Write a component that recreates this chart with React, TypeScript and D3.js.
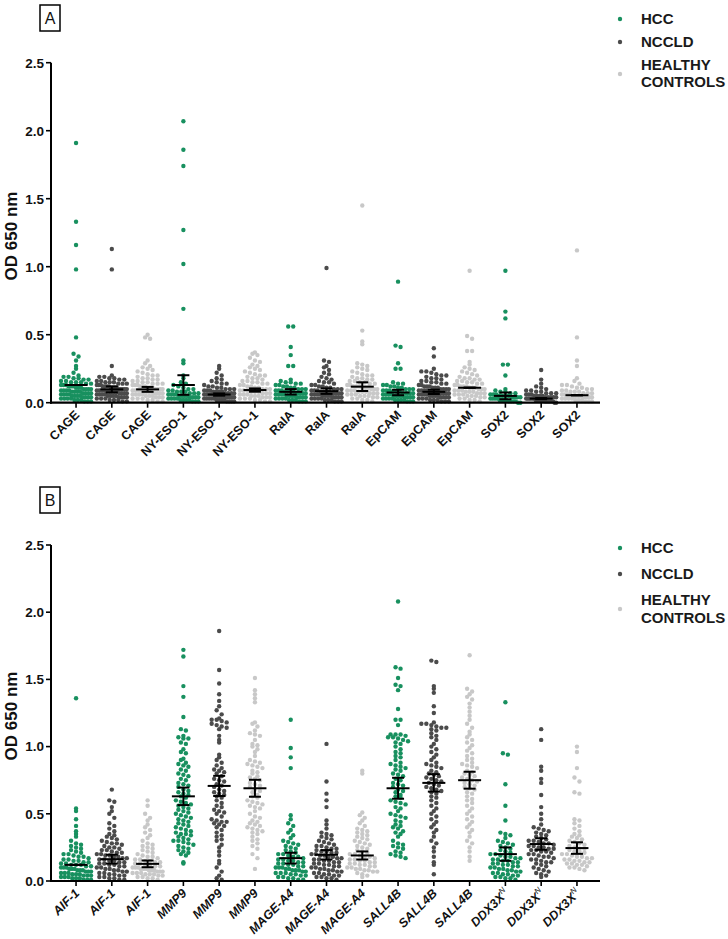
import React from "react";
import * as d3 from "d3";

// ---- categories / groups ----
const markersA = ["CAGE", "NY-ESO-1", "RalA", "EpCAM", "SOX2"];
const markersB = ["AIF-1", "MMP9", "MAGE-A4", "SALL4B", "DDX3X"];
const groupNames = ["HCC", "NCCLD", "HEALTHY CONTROLS"];
const groupColors = ["#18905f", "#4b4b4b", "#c8c8c8"];
const yTicks = [0, 0.5, 1.0, 1.5, 2.0, 2.5];

// ---- panel A values (OD 650 nm) ----
const cageHCC = [1.91, 1.33, 1.16, 0.98, 0.48, 0.36, 0.34, 0.31, 0.27, 0.25, 0.22, 0.2, 0.19, 0.19, 0.18, 0.18, 0.17, 0.17, 0.16, 0.16, 0.15, 0.15, 0.15, 0.14, 0.14, 0.13, 0.13, 0.13, 0.12, 0.12, 0.12, 0.11, 0.11, 0.11, 0.1, 0.1, 0.1, 0.1, 0.09, 0.09, 0.09, 0.09, 0.08, 0.08, 0.08, 0.08, 0.07, 0.07, 0.07, 0.07, 0.06, 0.06, 0.06, 0.06, 0.05, 0.05, 0.05, 0.05, 0.04, 0.04, 0.04, 0.04, 0.03, 0.03, 0.03, 0.03, 0.02, 0.02, 0.02, 0.01, 0.01, 0.01];
const cageNCCLD = [1.13, 0.98, 0.27, 0.2, 0.19, 0.19, 0.18, 0.18, 0.17, 0.17, 0.16, 0.16, 0.15, 0.15, 0.15, 0.14, 0.14, 0.14, 0.13, 0.13, 0.13, 0.12, 0.12, 0.12, 0.12, 0.11, 0.11, 0.11, 0.11, 0.1, 0.1, 0.1, 0.1, 0.1, 0.09, 0.09, 0.09, 0.09, 0.08, 0.08, 0.08, 0.08, 0.08, 0.07, 0.07, 0.07, 0.07, 0.06, 0.06, 0.06, 0.06, 0.05, 0.05, 0.05, 0.05, 0.04, 0.04, 0.04, 0.04, 0.03, 0.03, 0.03, 0.02, 0.02, 0.02, 0.01, 0.01];
const cageHC = [0.5, 0.48, 0.47, 0.31, 0.29, 0.27, 0.26, 0.25, 0.24, 0.23, 0.22, 0.21, 0.2, 0.2, 0.19, 0.18, 0.18, 0.17, 0.17, 0.16, 0.16, 0.15, 0.15, 0.14, 0.14, 0.14, 0.13, 0.13, 0.13, 0.12, 0.12, 0.12, 0.11, 0.11, 0.11, 0.1, 0.1, 0.1, 0.1, 0.09, 0.09, 0.09, 0.09, 0.08, 0.08, 0.08, 0.08, 0.07, 0.07, 0.07, 0.07, 0.06, 0.06, 0.06, 0.06, 0.05, 0.05, 0.05, 0.04, 0.04, 0.04, 0.03, 0.03, 0.03, 0.02, 0.02, 0.01, 0.01];
const nyHCC = [2.07, 1.86, 1.74, 1.27, 1.02, 0.69, 0.31, 0.29, 0.2, 0.18, 0.15, 0.14, 0.13, 0.12, 0.11, 0.1, 0.1, 0.09, 0.09, 0.08, 0.08, 0.08, 0.07, 0.07, 0.07, 0.06, 0.06, 0.06, 0.06, 0.05, 0.05, 0.05, 0.05, 0.04, 0.04, 0.04, 0.04, 0.03, 0.03, 0.03, 0.03, 0.02, 0.02, 0.02, 0.02, 0.01, 0.01, 0.01];
const nyNCCLD = [0.27, 0.25, 0.22, 0.2, 0.18, 0.17, 0.16, 0.15, 0.14, 0.14, 0.13, 0.12, 0.12, 0.11, 0.11, 0.1, 0.1, 0.1, 0.09, 0.09, 0.09, 0.08, 0.08, 0.08, 0.08, 0.07, 0.07, 0.07, 0.07, 0.06, 0.06, 0.06, 0.06, 0.06, 0.05, 0.05, 0.05, 0.05, 0.05, 0.04, 0.04, 0.04, 0.04, 0.04, 0.03, 0.03, 0.03, 0.03, 0.03, 0.02, 0.02, 0.02, 0.02, 0.01, 0.01, 0.01, 0.01];
const nyHC = [0.37, 0.36, 0.35, 0.33, 0.31, 0.3, 0.28, 0.27, 0.26, 0.25, 0.24, 0.23, 0.22, 0.21, 0.2, 0.2, 0.19, 0.18, 0.18, 0.17, 0.16, 0.16, 0.15, 0.15, 0.14, 0.14, 0.13, 0.13, 0.12, 0.12, 0.11, 0.11, 0.1, 0.1, 0.1, 0.09, 0.09, 0.09, 0.08, 0.08, 0.08, 0.07, 0.07, 0.07, 0.06, 0.06, 0.06, 0.05, 0.05, 0.05, 0.04, 0.04, 0.04, 0.03, 0.03, 0.03, 0.02, 0.02, 0.01, 0.01];
const ralaHCC = [0.56, 0.56, 0.41, 0.35, 0.27, 0.27, 0.17, 0.16, 0.15, 0.15, 0.14, 0.14, 0.13, 0.13, 0.12, 0.12, 0.11, 0.11, 0.1, 0.1, 0.1, 0.09, 0.09, 0.09, 0.08, 0.08, 0.08, 0.08, 0.07, 0.07, 0.07, 0.07, 0.06, 0.06, 0.06, 0.06, 0.05, 0.05, 0.05, 0.05, 0.04, 0.04, 0.04, 0.04, 0.03, 0.03, 0.03, 0.03, 0.02, 0.02, 0.02, 0.01, 0.01, 0.01];
const ralaNCCLD = [0.99, 0.31, 0.3, 0.27, 0.26, 0.24, 0.22, 0.21, 0.19, 0.18, 0.17, 0.16, 0.15, 0.15, 0.14, 0.13, 0.13, 0.12, 0.12, 0.11, 0.11, 0.1, 0.1, 0.1, 0.09, 0.09, 0.09, 0.08, 0.08, 0.08, 0.08, 0.07, 0.07, 0.07, 0.07, 0.06, 0.06, 0.06, 0.06, 0.05, 0.05, 0.05, 0.05, 0.04, 0.04, 0.04, 0.04, 0.03, 0.03, 0.03, 0.03, 0.02, 0.02, 0.02, 0.01, 0.01, 0.01];
const ralaHC = [1.45, 0.53, 0.45, 0.43, 0.29, 0.28, 0.27, 0.26, 0.25, 0.24, 0.23, 0.22, 0.21, 0.2, 0.2, 0.19, 0.18, 0.18, 0.17, 0.17, 0.16, 0.16, 0.15, 0.15, 0.14, 0.14, 0.13, 0.13, 0.12, 0.12, 0.12, 0.11, 0.11, 0.11, 0.1, 0.1, 0.1, 0.09, 0.09, 0.09, 0.08, 0.08, 0.08, 0.07, 0.07, 0.07, 0.06, 0.06, 0.06, 0.05, 0.05, 0.05, 0.04, 0.04, 0.03, 0.03, 0.02, 0.02, 0.01];
const epHCC = [0.89, 0.42, 0.41, 0.29, 0.25, 0.25, 0.15, 0.14, 0.14, 0.13, 0.13, 0.12, 0.12, 0.11, 0.11, 0.1, 0.1, 0.1, 0.09, 0.09, 0.09, 0.08, 0.08, 0.08, 0.07, 0.07, 0.07, 0.07, 0.06, 0.06, 0.06, 0.06, 0.05, 0.05, 0.05, 0.05, 0.04, 0.04, 0.04, 0.04, 0.03, 0.03, 0.03, 0.03, 0.02, 0.02, 0.02, 0.02, 0.01, 0.01, 0.01];
const epNCCLD = [0.4, 0.34, 0.25, 0.23, 0.23, 0.22, 0.21, 0.2, 0.2, 0.19, 0.18, 0.18, 0.17, 0.16, 0.16, 0.15, 0.15, 0.14, 0.14, 0.13, 0.13, 0.12, 0.12, 0.12, 0.11, 0.11, 0.11, 0.1, 0.1, 0.1, 0.1, 0.09, 0.09, 0.09, 0.09, 0.08, 0.08, 0.08, 0.08, 0.07, 0.07, 0.07, 0.07, 0.06, 0.06, 0.06, 0.06, 0.05, 0.05, 0.05, 0.05, 0.04, 0.04, 0.04, 0.04, 0.03, 0.03, 0.03, 0.02, 0.02, 0.02, 0.01, 0.01, 0.01];
const epHC = [0.97, 0.49, 0.47, 0.38, 0.38, 0.3, 0.28, 0.26, 0.25, 0.24, 0.23, 0.22, 0.21, 0.2, 0.19, 0.18, 0.18, 0.17, 0.17, 0.16, 0.16, 0.15, 0.15, 0.14, 0.14, 0.13, 0.13, 0.12, 0.12, 0.12, 0.11, 0.11, 0.11, 0.1, 0.1, 0.1, 0.09, 0.09, 0.09, 0.08, 0.08, 0.08, 0.07, 0.07, 0.07, 0.06, 0.06, 0.06, 0.05, 0.05, 0.05, 0.04, 0.04, 0.03, 0.03, 0.02, 0.02, 0.01];
const sox2HCC = [0.97, 0.67, 0.62, 0.28, 0.28, 0.2, 0.1, 0.09, 0.08, 0.08, 0.07, 0.07, 0.06, 0.06, 0.06, 0.05, 0.05, 0.05, 0.05, 0.04, 0.04, 0.04, 0.04, 0.03, 0.03, 0.03, 0.03, 0.02, 0.02, 0.02, 0.02, 0.01, 0.01, 0.01, 0.01, 0.0, 0.0];
const sox2NCCLD = [0.24, 0.17, 0.14, 0.12, 0.11, 0.1, 0.09, 0.09, 0.08, 0.08, 0.07, 0.07, 0.07, 0.06, 0.06, 0.06, 0.05, 0.05, 0.05, 0.05, 0.04, 0.04, 0.04, 0.04, 0.04, 0.03, 0.03, 0.03, 0.03, 0.03, 0.03, 0.02, 0.02, 0.02, 0.02, 0.02, 0.02, 0.01, 0.01, 0.01, 0.01, 0.01, 0.01, 0.0, 0.0];
const sox2HC = [1.12, 0.48, 0.31, 0.27, 0.18, 0.16, 0.14, 0.13, 0.13, 0.12, 0.11, 0.11, 0.1, 0.1, 0.09, 0.09, 0.08, 0.08, 0.08, 0.07, 0.07, 0.07, 0.06, 0.06, 0.06, 0.06, 0.05, 0.05, 0.05, 0.05, 0.04, 0.04, 0.04, 0.04, 0.03, 0.03, 0.03, 0.03, 0.02, 0.02, 0.02, 0.01, 0.01, 0.01];

// mean and SEM per column, panel A
const meanA = [0.13, 0.098, 0.098, 0.13, 0.06, 0.093, 0.08, 0.085, 0.118, 0.075, 0.08, 0.11, 0.05, 0.03, 0.055];
const semA = [0, 0.022, 0.018, 0.072, 0.008, 0.012, 0.02, 0.02, 0.032, 0.02, 0.016, 0, 0.025, 0.004, 0];

// ---- panel B values ----
const aifHCC = [1.36, 0.54, 0.52, 0.46, 0.41, 0.37, 0.35, 0.33, 0.3, 0.28, 0.27, 0.26, 0.25, 0.24, 0.23, 0.22, 0.21, 0.2, 0.2, 0.19, 0.18, 0.18, 0.17, 0.16, 0.16, 0.15, 0.15, 0.14, 0.14, 0.13, 0.13, 0.12, 0.12, 0.12, 0.11, 0.11, 0.1, 0.1, 0.1, 0.09, 0.09, 0.09, 0.08, 0.08, 0.08, 0.07, 0.07, 0.07, 0.06, 0.06, 0.06, 0.05, 0.05, 0.05, 0.04, 0.04, 0.04, 0.03, 0.03, 0.03, 0.02, 0.02, 0.02, 0.01, 0.01, 0.01];
const aifNCCLD = [0.68, 0.6, 0.59, 0.55, 0.52, 0.5, 0.47, 0.43, 0.41, 0.39, 0.37, 0.35, 0.34, 0.33, 0.32, 0.31, 0.3, 0.29, 0.28, 0.28, 0.27, 0.26, 0.25, 0.25, 0.24, 0.23, 0.23, 0.22, 0.21, 0.21, 0.2, 0.2, 0.19, 0.19, 0.18, 0.18, 0.17, 0.17, 0.16, 0.16, 0.15, 0.15, 0.14, 0.14, 0.13, 0.13, 0.12, 0.12, 0.11, 0.11, 0.1, 0.1, 0.09, 0.09, 0.08, 0.08, 0.07, 0.07, 0.06, 0.06, 0.05, 0.05, 0.04, 0.04, 0.03, 0.03, 0.02, 0.02, 0.01, 0.01];
const aifHC = [0.6, 0.56, 0.5, 0.47, 0.45, 0.42, 0.4, 0.38, 0.36, 0.34, 0.32, 0.3, 0.28, 0.27, 0.26, 0.25, 0.24, 0.23, 0.22, 0.21, 0.2, 0.19, 0.18, 0.18, 0.17, 0.16, 0.16, 0.15, 0.15, 0.14, 0.14, 0.13, 0.13, 0.12, 0.12, 0.11, 0.11, 0.1, 0.1, 0.1, 0.09, 0.09, 0.09, 0.08, 0.08, 0.08, 0.07, 0.07, 0.07, 0.06, 0.06, 0.06, 0.05, 0.05, 0.05, 0.04, 0.04, 0.03, 0.03, 0.02, 0.02, 0.01];
const mmpHCC = [1.72, 1.67, 1.45, 1.37, 1.22, 1.13, 1.12, 1.08, 1.07, 1.06, 1.06, 1.03, 1.02, 0.98, 0.96, 0.95, 0.91, 0.9, 0.88, 0.87, 0.86, 0.85, 0.83, 0.82, 0.8, 0.79, 0.78, 0.76, 0.75, 0.73, 0.72, 0.71, 0.7, 0.68, 0.67, 0.66, 0.65, 0.64, 0.63, 0.62, 0.6, 0.59, 0.58, 0.57, 0.56, 0.55, 0.54, 0.53, 0.52, 0.51, 0.5, 0.49, 0.48, 0.47, 0.46, 0.45, 0.44, 0.43, 0.42, 0.41, 0.4, 0.39, 0.38, 0.37, 0.36, 0.35, 0.35, 0.34, 0.33, 0.32, 0.31, 0.3, 0.3, 0.29, 0.28, 0.27, 0.26, 0.25, 0.24, 0.23, 0.22, 0.21, 0.2, 0.19, 0.14, 0.13];
const mmpNCCLD = [1.86, 1.57, 1.47, 1.39, 1.34, 1.3, 1.27, 1.24, 1.21, 1.2, 1.2, 1.19, 1.18, 1.17, 1.16, 1.15, 1.14, 1.13, 1.08, 1.05, 1.03, 0.94, 0.92, 0.9, 0.88, 0.86, 0.84, 0.83, 0.82, 0.81, 0.8, 0.78, 0.76, 0.75, 0.74, 0.72, 0.71, 0.7, 0.68, 0.67, 0.66, 0.65, 0.64, 0.63, 0.62, 0.6, 0.58, 0.56, 0.55, 0.53, 0.52, 0.51, 0.5, 0.48, 0.46, 0.45, 0.44, 0.44, 0.43, 0.42, 0.41, 0.4, 0.38, 0.36, 0.34, 0.33, 0.31, 0.3, 0.27, 0.25, 0.22, 0.19, 0.15, 0.13, 0.1, 0.07, 0.04, 0.02, 0.01];
const mmpHC = [1.51, 1.42, 1.39, 1.36, 1.33, 1.18, 1.17, 1.15, 1.12, 1.1, 1.09, 1.08, 1.05, 1.02, 1.01, 1.0, 0.98, 0.96, 0.93, 0.9, 0.89, 0.88, 0.87, 0.86, 0.85, 0.84, 0.82, 0.81, 0.8, 0.78, 0.77, 0.76, 0.75, 0.73, 0.72, 0.71, 0.7, 0.68, 0.67, 0.66, 0.64, 0.63, 0.62, 0.6, 0.59, 0.58, 0.57, 0.56, 0.55, 0.54, 0.52, 0.5, 0.48, 0.47, 0.45, 0.44, 0.43, 0.42, 0.41, 0.4, 0.39, 0.38, 0.37, 0.36, 0.35, 0.33, 0.31, 0.3, 0.28, 0.26, 0.24, 0.2, 0.17, 0.09];
const mageHCC = [1.2, 0.99, 0.92, 0.84, 0.49, 0.46, 0.43, 0.41, 0.38, 0.36, 0.34, 0.32, 0.3, 0.29, 0.28, 0.27, 0.26, 0.25, 0.24, 0.23, 0.22, 0.21, 0.2, 0.2, 0.19, 0.18, 0.18, 0.17, 0.16, 0.16, 0.15, 0.15, 0.14, 0.14, 0.13, 0.13, 0.12, 0.12, 0.11, 0.11, 0.1, 0.1, 0.1, 0.09, 0.09, 0.08, 0.08, 0.08, 0.07, 0.07, 0.06, 0.06, 0.06, 0.05, 0.05, 0.04, 0.04, 0.03, 0.03, 0.02, 0.02, 0.01, 0.01];
const mageNCCLD = [1.02, 0.74, 0.65, 0.6, 0.55, 0.45, 0.42, 0.39, 0.36, 0.35, 0.34, 0.33, 0.32, 0.31, 0.3, 0.29, 0.28, 0.27, 0.26, 0.26, 0.25, 0.24, 0.24, 0.23, 0.22, 0.22, 0.21, 0.21, 0.2, 0.2, 0.19, 0.19, 0.18, 0.18, 0.17, 0.17, 0.16, 0.16, 0.15, 0.15, 0.14, 0.14, 0.13, 0.13, 0.12, 0.12, 0.11, 0.11, 0.1, 0.1, 0.09, 0.09, 0.08, 0.08, 0.07, 0.07, 0.06, 0.06, 0.05, 0.05, 0.04, 0.04, 0.03, 0.03, 0.02, 0.02, 0.01];
const mageHC = [0.82, 0.8, 0.51, 0.49, 0.47, 0.45, 0.43, 0.41, 0.39, 0.38, 0.37, 0.36, 0.35, 0.34, 0.33, 0.32, 0.31, 0.3, 0.29, 0.28, 0.27, 0.26, 0.25, 0.24, 0.23, 0.22, 0.21, 0.2, 0.2, 0.19, 0.18, 0.18, 0.17, 0.16, 0.16, 0.15, 0.15, 0.14, 0.14, 0.13, 0.13, 0.12, 0.12, 0.11, 0.11, 0.1, 0.1, 0.09, 0.09, 0.08, 0.08, 0.07, 0.07, 0.06, 0.05, 0.04, 0.03];
const sallHCC = [2.08, 1.59, 1.58, 1.51, 1.46, 1.45, 1.42, 1.28, 1.2, 1.2, 1.16, 1.09, 1.09, 1.09, 1.08, 1.07, 1.07, 1.06, 1.05, 1.04, 1.03, 1.02, 1.0, 0.98, 0.96, 0.95, 0.93, 0.92, 0.9, 0.88, 0.87, 0.86, 0.85, 0.84, 0.83, 0.82, 0.8, 0.79, 0.78, 0.76, 0.75, 0.73, 0.72, 0.71, 0.7, 0.68, 0.67, 0.66, 0.64, 0.63, 0.62, 0.6, 0.59, 0.58, 0.57, 0.55, 0.54, 0.52, 0.5, 0.49, 0.48, 0.47, 0.45, 0.44, 0.42, 0.41, 0.4, 0.39, 0.37, 0.36, 0.35, 0.33, 0.3, 0.28, 0.27, 0.26, 0.25, 0.24, 0.22, 0.21, 0.2, 0.19, 0.18, 0.17];
const sallNCCLD = [1.64, 1.63, 1.45, 1.43, 1.4, 1.3, 1.25, 1.18, 1.17, 1.17, 1.16, 1.15, 1.14, 1.14, 1.13, 1.12, 1.1, 1.08, 1.07, 1.05, 1.02, 1.0, 0.98, 0.96, 0.94, 0.92, 0.9, 0.88, 0.87, 0.86, 0.85, 0.84, 0.82, 0.81, 0.8, 0.79, 0.78, 0.77, 0.76, 0.75, 0.74, 0.73, 0.72, 0.71, 0.7, 0.69, 0.68, 0.67, 0.66, 0.65, 0.63, 0.62, 0.6, 0.58, 0.56, 0.54, 0.52, 0.5, 0.48, 0.46, 0.44, 0.42, 0.4, 0.38, 0.36, 0.33, 0.3, 0.28, 0.25, 0.22, 0.18, 0.14, 0.12, 0.05];
const sallHC = [1.68, 1.43, 1.41, 1.39, 1.37, 1.35, 1.32, 1.29, 1.26, 1.23, 1.2, 1.17, 1.14, 1.11, 1.09, 1.07, 1.05, 1.03, 1.01, 0.99, 0.97, 0.95, 0.93, 0.91, 0.9, 0.88, 0.87, 0.86, 0.85, 0.84, 0.82, 0.81, 0.8, 0.79, 0.78, 0.77, 0.76, 0.75, 0.74, 0.73, 0.72, 0.71, 0.7, 0.69, 0.68, 0.66, 0.65, 0.63, 0.61, 0.6, 0.58, 0.56, 0.54, 0.52, 0.5, 0.48, 0.46, 0.44, 0.42, 0.4, 0.38, 0.36, 0.33, 0.3, 0.28, 0.25, 0.22, 0.18, 0.15];
const ddxHCC = [1.33, 0.95, 0.94, 0.72, 0.56, 0.45, 0.36, 0.35, 0.34, 0.32, 0.3, 0.29, 0.28, 0.27, 0.26, 0.25, 0.24, 0.23, 0.22, 0.21, 0.2, 0.2, 0.19, 0.18, 0.18, 0.17, 0.17, 0.16, 0.16, 0.15, 0.15, 0.14, 0.14, 0.13, 0.13, 0.12, 0.12, 0.11, 0.11, 0.1, 0.1, 0.09, 0.09, 0.08, 0.08, 0.07, 0.07, 0.06, 0.06, 0.05, 0.05, 0.04, 0.04, 0.03, 0.03, 0.02, 0.02, 0.01];
const ddxNCCLD = [1.13, 1.05, 0.85, 0.82, 0.76, 0.73, 0.64, 0.55, 0.5, 0.46, 0.42, 0.4, 0.39, 0.38, 0.37, 0.36, 0.35, 0.34, 0.33, 0.32, 0.31, 0.3, 0.3, 0.29, 0.28, 0.28, 0.27, 0.26, 0.26, 0.25, 0.25, 0.24, 0.24, 0.23, 0.23, 0.22, 0.22, 0.21, 0.2, 0.2, 0.19, 0.18, 0.18, 0.17, 0.16, 0.16, 0.15, 0.14, 0.14, 0.13, 0.12, 0.11, 0.1, 0.09, 0.08, 0.07, 0.06, 0.05, 0.04, 0.03];
const ddxHC = [1.0, 0.96, 0.84, 0.77, 0.74, 0.66, 0.65, 0.46, 0.45, 0.43, 0.41, 0.39, 0.37, 0.35, 0.34, 0.33, 0.32, 0.31, 0.3, 0.29, 0.28, 0.27, 0.26, 0.25, 0.24, 0.24, 0.23, 0.22, 0.22, 0.21, 0.2, 0.2, 0.19, 0.18, 0.18, 0.17, 0.17, 0.16, 0.16, 0.15, 0.15, 0.14, 0.14, 0.13, 0.13, 0.12, 0.12, 0.11, 0.1, 0.1, 0.09, 0.08];

const meanB = [0.12, 0.1625, 0.1275, 0.63, 0.7075, 0.69, 0.17, 0.195, 0.19, 0.69, 0.73, 0.75, 0.2, 0.275, 0.245];
const semB = [0, 0.033, 0.025, 0.065, 0.075, 0.063, 0.04, 0.035, 0.03, 0.078, 0.065, 0.063, 0.05, 0.043, 0.043];

const seriesA = [cageHCC, cageNCCLD, cageHC, nyHCC, nyNCCLD, nyHC, ralaHCC, ralaNCCLD, ralaHC, epHCC, epNCCLD, epHC, sox2HCC, sox2NCCLD, sox2HC];
const seriesB = [aifHCC, aifNCCLD, aifHC, mmpHCC, mmpNCCLD, mmpHC, mageHCC, mageNCCLD, mageHC, sallHCC, sallNCCLD, sallHC, ddxHCC, ddxNCCLD, ddxHC];

const FONT = "Arial, 'Liberation Sans', sans-serif";

// prism-like scatter: points in the same row are spread sideways, width capped
function swarm(vals: number[], y: (v: number) => number, cx: number) {
  const rowH = 4.5, maxW = 30, gap = 5;
  const base = y(0);
  const rows = d3.group(vals.map((v) => ({ v, py: y(v) })), (d) => Math.floor((base - d.py) / rowH));
  const pts: { x: number; y: number }[] = [];
  rows.forEach((row) => {
    const n = row.length;
    const dx = n > 1 ? Math.min(gap, maxW / (n - 1)) : 0;
    row.forEach((d, i) => pts.push({ x: cx + (i - (n - 1) / 2) * dx, y: d.py }));
  });
  return pts;
}

type PanelProps = {
  letter: string;
  markers: string[];
  series: number[][];
  means: number[];
  sems: number[];
  top: number;
  bottom: number;
  italic: boolean;
  boxY: number;
  titleY: number;
  legendY: number[];
};

function Panel(p: PanelProps) {
  const cols = p.markers.flatMap((m) => groupNames.map((g) => m + "|" + g));
  const x = d3.scalePoint<string>().domain(cols).range([51, 602]).padding(0.7);
  const y = d3.scaleLinear().domain([0, 2.5]).range([p.bottom, p.top]);
  const y0 = y(0);

  return (
    <g>
      {/* panel letter */}
      <rect x={40} y={p.boxY} width={20} height={26} fill="none" stroke="#000" strokeWidth={1.5} />
      <text x={50} y={p.boxY + 19} textAnchor="middle" fontSize={16} fontFamily={FONT} fill="#111">
        {p.letter}
      </text>

      {/* y title */}
      <text
        transform={`translate(17,${p.titleY}) rotate(-90)`}
        textAnchor="middle"
        fontSize={17}
        fontWeight="bold"
        fontFamily={FONT}
        fill="#111"
      >
        OD 650 nm
      </text>

      {/* y axis */}
      <line x1={51} x2={51} y1={y(2.5)} y2={y0 + 1} stroke="#000" strokeWidth={2} />
      {yTicks.map((t) => (
        <g key={t}>
          <line x1={46} x2={51} y1={y(t)} y2={y(t)} stroke="#000" strokeWidth={1.6} />
          <text x={44} y={y(t)} dy="0.36em" textAnchor="end" fontSize={13.5} fontWeight="bold" fontFamily={FONT} fill="#111">
            {d3.format(".1f")(t)}
          </text>
        </g>
      ))}

      {/* dots */}
      {cols.map((c, i) => (
        <g key={c} fill={groupColors[i % 3]}>
          {swarm(p.series[i], y, x(c) as number).map((pt, j) => (
            <circle key={j} cx={pt.x} cy={pt.y} r={2.2} />
          ))}
        </g>
      ))}

      {/* mean +/- SEM */}
      {cols.map((c, i) => {
        const cx = x(c) as number;
        const m = y(p.means[i]);
        const hi = y(p.means[i] + p.sems[i]);
        const lo = y(p.means[i] - p.sems[i]);
        return (
          <g key={"e" + c} stroke="#000" strokeWidth={2}>
            <line x1={cx} x2={cx} y1={hi} y2={lo} />
            <line x1={cx - 6} x2={cx + 6} y1={hi} y2={hi} />
            <line x1={cx - 6} x2={cx + 6} y1={lo} y2={lo} />
            <line x1={cx - 11.5} x2={cx + 11.5} y1={m} y2={m} />
          </g>
        );
      })}

      {/* x axis */}
      <line x1={50} x2={600} y1={y0} y2={y0} stroke="#000" strokeWidth={2.2} />
      {cols.map((c, i) => {
        const cx = x(c) as number;
        const name = p.markers[Math.floor(i / 3)];
        const sup = p.italic && name === "DDX3X";
        return (
          <g key={"t" + c}>
            <line x1={cx} x2={cx} y1={y0} y2={y0 + 5} stroke="#000" strokeWidth={1.6} />
            <text
              transform={`translate(${cx + 4},${y0 + 13}) rotate(-45)`}
              textAnchor="end"
              fontSize={12.5}
              fontWeight="bold"
              fontStyle={p.italic ? "italic" : "normal"}
              fontFamily={FONT}
              fill="#111"
            >
              {name}
              {sup && (
                <tspan fontSize={8} fontWeight="normal" dy={-5}>
                  N
                </tspan>
              )}
            </text>
          </g>
        );
      })}

      {/* legend */}
      {groupNames.map((g, i) => (
        <circle key={"l" + g} cx={620} cy={p.legendY[i]} r={2.2} fill={groupColors[i]} />
      ))}
      <g fontSize={15} fontWeight="bold" fontFamily={FONT} fill="#1a1a1a">
        <text x={641} y={p.legendY[0]} dy="0.35em">HCC</text>
        <text x={641} y={p.legendY[1]} dy="0.35em">NCCLD</text>
        <text x={641} y={p.legendY[3]} dy="0.35em">HEALTHY</text>
        <text x={641} y={p.legendY[4]} dy="0.35em">CONTROLS</text>
      </g>
    </g>
  );
}

export default function App() {
  return (
    <svg width={728} height={939} style={{ position: "absolute", left: 0, top: 0, background: "#fff" }}>
      <rect width={728} height={939} fill="#fff" />
      <Panel
        letter="A"
        markers={markersA}
        series={seriesA}
        means={meanA}
        sems={semA}
        top={62.7}
        bottom={402.7}
        italic={false}
        boxY={5}
        titleY={236}
        legendY={[19, 42, 74, 65, 82]}
      />
      <Panel
        letter="B"
        markers={markersB}
        series={seriesB}
        means={meanB}
        sems={semB}
        top={545}
        bottom={881}
        italic={true}
        boxY={487}
        titleY={716}
        legendY={[548, 574, 609, 600, 618]}
      />
    </svg>
  );
}
